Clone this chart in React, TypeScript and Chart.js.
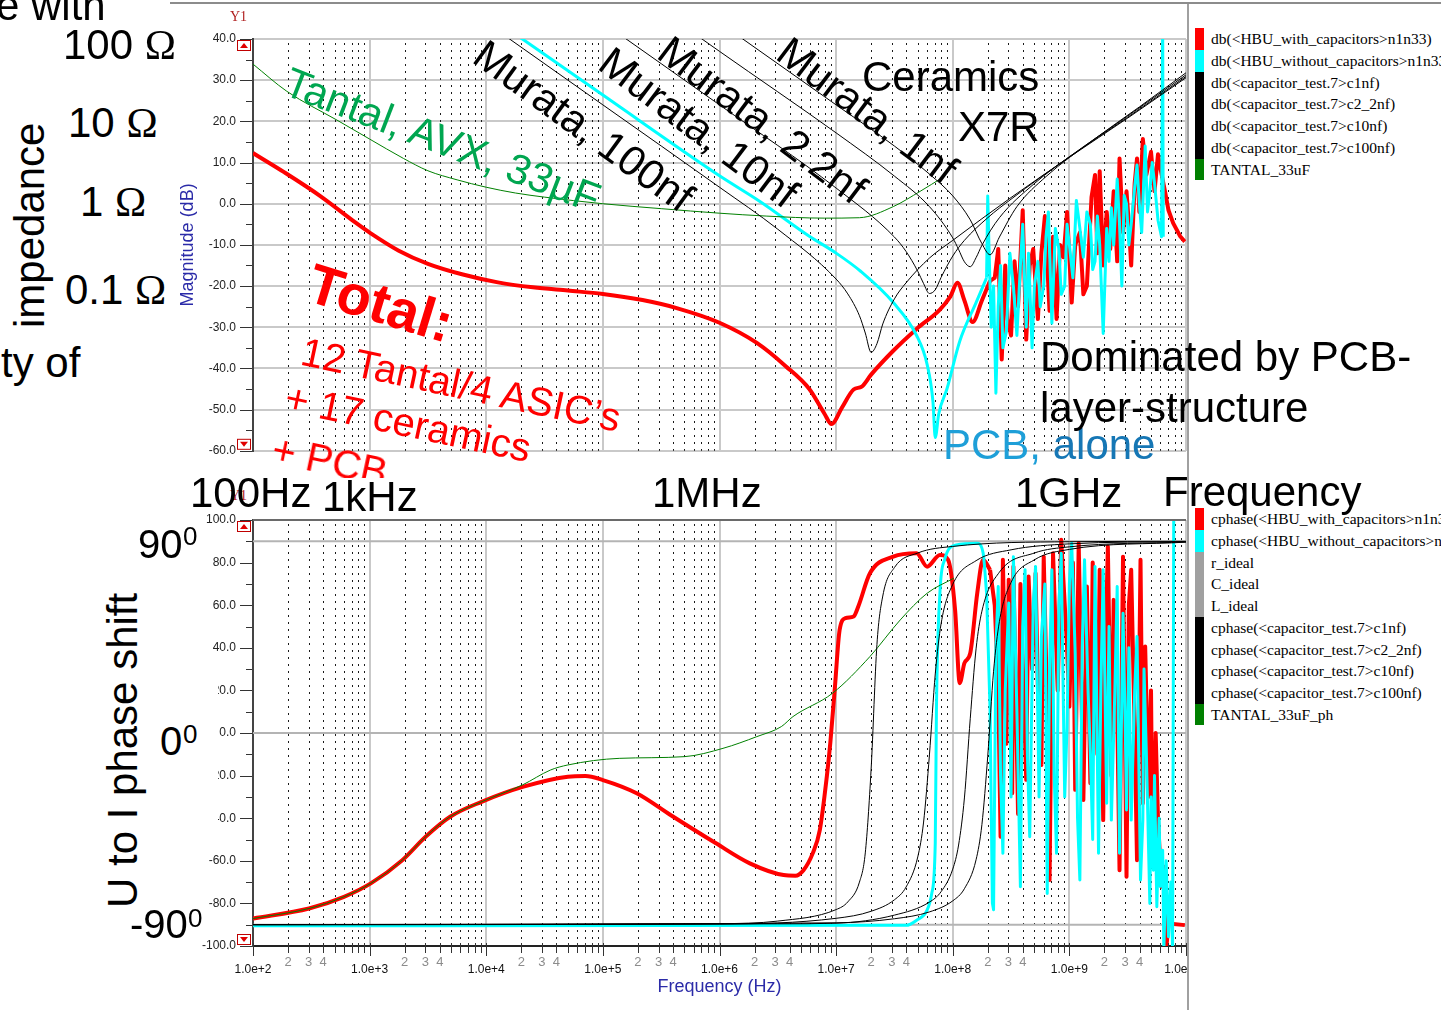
import React, { useEffect, useRef } from "react";
import { Chart, registerables } from "chart.js";

Chart.register(...registerables);

const SANS = "'Liberation Sans', Arial, Helvetica, sans-serif";
const SERIF = "'Liberation Serif', 'Times New Roman', serif";
const GRID = "#c9c9c9";

// ---------- axes ----------
const decadeExps = [2, 3, 4, 5, 6, 7, 8, 9, 10];
const decadeLabels = ["1.0e+2", "1.0e+3", "1.0e+4", "1.0e+5", "1.0e+6", "1.0e+7", "1.0e+8", "1.0e+9", "1.0e+10"];
const minorMultipliers = [2, 3, 4, 5, 6, 7, 8, 9];
const minorLabels = ["2", "3", "4"];
const magTicks = [40, 30, 20, 10, 0, -10, -20, -30, -40, -50, -60];
const magMinorTicks = [35, 25, 15, 5, -5, -15, -25, -35, -45, -55];
const phaseTicks = [100, 80, 60, 40, 20, 0, -20, -40, -60, -80, -100];
const phaseMinorTicks = [90, 70, 50, 30, 10, -10, -30, -50, -70, -90];

// ---------- magnitude (dB) — frequencies given as log10(Hz) ----------
// HBU with capacitors (red): smooth part, then the PCB-dominated ripple
const redMagF = [2.0, 2.27, 2.58, 2.88, 3.0, 3.25, 3.5, 3.8, 4.1, 4.4, 4.7, 5.0, 5.34, 5.64, 6.0, 6.32, 6.57, 6.77, 6.9, 6.96, 7.05, 7.15, 7.22, 7.3, 7.49, 7.69, 7.89, 7.98, 8.04, 8.1, 8.17, 8.25, 8.32];
const redMagDb = [12.3, 7.6, 1.8, -4.6, -7.0, -11.4, -14.6, -17.2, -19.1, -20.3, -21.1, -21.9, -23.4, -25.4, -28.9, -33.8, -39.5, -45.0, -51.0, -53.5, -49.5, -45.1, -44.4, -41.5, -35.7, -30.4, -25.7, -22.5, -19.2, -23.5, -28.7, -23.5, -18.7];
const redMagNoiseF = [8.32, 8.36, 8.39, 8.42, 8.45, 8.47, 8.5, 8.53, 8.56, 8.6, 8.63, 8.66, 8.69, 8.73, 8.76, 8.79, 8.83, 8.86, 8.89, 8.92, 8.95, 8.98, 9.02, 9.05, 9.09, 9.12, 9.15, 9.19, 9.22, 9.24, 9.26, 9.29, 9.32, 9.35, 9.38, 9.41, 9.43, 9.46, 9.49, 9.51, 9.53, 9.56, 9.58, 9.6, 9.63, 9.66, 9.7, 9.73, 9.76, 9.78, 9.82, 9.85, 9.89, 9.95, 9.99];
const redMagNoiseDb = [-18.7, -18, -11, -37.8, -15, -28, -32, -14, -25, -1.6, -33, -15, -11, -28, -12, -3, -26, -8, -28, -10, -13, -2, -24, -10, -7, -22, -20, 1.6, 7, -12, 7.9, -15, -2, -11, 3, -14, 11, -7, 3, -5, -15, 5, 11, -2, 15.7, 7, 12.6, 3, 12, 8.7, 3, -1.6, -4.7, -7.9, -9.2];

// HBU without capacitors = PCB alone (cyan)
const cyanMagF = [2.0, 4.31, 5.0, 6.0, 6.35, 6.77, 7.0, 7.21, 7.49, 7.69, 7.78, 7.83, 7.85, 7.88, 7.95, 8.06, 8.2, 8.29];
const cyanMagDb = [86, 40, 26.4, 6.8, 0.5, -7.9, -12, -16.4, -24, -32, -39, -48, -56.8, -51, -45, -33.4, -24, -18];
const cyanMagNoiseF = [8.29, 8.3, 8.31, 8.33, 8.35, 8.37, 8.39, 8.41, 8.43, 8.46, 8.49, 8.52, 8.55, 8.58, 8.6, 8.63, 8.65, 8.68, 8.7, 8.73, 8.75, 8.78, 8.8, 8.82, 8.85, 8.88, 8.91, 8.93, 8.96, 8.98, 9.0, 9.03, 9.06, 9.09, 9.12, 9.15, 9.18, 9.2, 9.22, 9.24, 9.26, 9.29, 9.32, 9.34, 9.36, 9.38, 9.41, 9.43, 9.45, 9.47, 9.49, 9.51, 9.53, 9.56, 9.58, 9.6, 9.62, 9.65, 9.67, 9.69, 9.71, 9.73, 9.76, 9.79, 9.8, 9.805];
const cyanMagNoiseDb = [-18, 1.9, -10, -30, -20, -46, -25, -15, -35, -31, -12, -20, -32, -15, -5, -30, -12, -35, -20, -14, -25, -20, -8, -2, -29, -6, -11, -22, -20, -5, -10, -18, 0.8, -6, -13, -2, -5, -16, -14, -3, -10, -31.5, -6, -14, -1, -10, 6, -5, -20, 2, 0, -10, -5, 4, 9.4, 0, -7, 14, -2, 3, 10, 5, -4, -8, 45, -8];

// Tantal AVX 33uF (green)
const greenMagF = [2.0, 2.29, 2.72, 3.0, 3.29, 3.5, 3.75, 4.0, 4.25, 4.5, 5.0, 5.5, 6.0, 6.4, 6.9, 7.2, 7.49, 7.72, 7.92];
const greenMagDb = [33.9, 27.3, 20.3, 15.7, 11.0, 8.0, 5.8, 4.0, 2.6, 1.6, 0.0, -1.2, -2.3, -3.0, -3.5, -3.4, -0.7, 3.0, 6.5];

// Murata X7R ceramics (black)
const c100MagF = [2, 4, 5, 6, 6.5, 7, 7.1, 7.2, 7.25, 7.3, 7.35, 7.4, 7.5, 7.6, 7.8, 8, 8.5, 9, 9.5, 10];
const c100MagDb = [84, 44, 24, 4, -6.2, -18.3, -21.9, -27.2, -31.4, -36.1, -34, -29.2, -23.1, -19.2, -13.2, -8.9, 1.5, 11.3, 20.8, 30.6];
const c10MagF = [2, 5, 6, 7, 7.5, 7.6, 7.7, 7.75, 7.8, 7.85, 7.9, 8, 8.1, 8.3, 8.5, 9, 9.5, 10];
const c10MagDb = [104, 44, 24, 3.8, -8.1, -11.6, -16.4, -19.4, -21.8, -20.9, -17.9, -12.7, -8.9, -3.4, 1.1, 11.4, 21.0, 30.9];
const c2n2MagF = [2, 5, 6, 7, 7.5, 7.8, 8, 8.05, 8.1, 8.15, 8.2, 8.25, 8.4, 8.7, 9, 9.5, 10];
const c2n2MagDb = [117, 57, 37, 17.2, 6.7, -0.7, -8.3, -11.1, -14.1, -15.3, -13.1, -10.1, -3.4, 4.9, 11.4, 21.3, 31.3];
const c1nMagF = [2, 6, 7, 7.5, 7.8, 8, 8.15, 8.25, 8.32, 8.4, 8.55, 8.8, 9.2, 9.6, 10];
const c1nMagDb = [124, 44, 24, 14.0, 7.2, 1.9, -3.9, -9.7, -12.4, -8.1, -0.7, 6.6, 15.4, 23.5, 31.8];

// ---------- phase (deg) ----------
const redPhF = [2.0, 2.48, 2.78, 3.01, 3.28, 3.48, 3.69, 3.96, 4.32, 4.7, 4.85, 5.0, 5.29, 5.58, 5.97, 6.26, 6.55, 6.65, 6.72, 6.8, 6.86, 6.92, 6.95, 6.99, 7.03, 7.08, 7.15, 7.19, 7.29, 7.49, 7.69, 7.78, 7.89, 7.96, 8.02, 8.06, 8.1, 8.15, 8.21, 8.26, 8.32];
const redPhDeg = [-87.1, -82.4, -76.9, -70.6, -59.7, -48.7, -39.3, -32.3, -25.2, -20.5, -20.2, -22.1, -28.3, -38.5, -51.8, -61.2, -66.7, -67, -64.4, -56.4, -45.6, -20.5, -4.7, 21.8, 48.4, 53.9, 54.7, 59.4, 75, 82.8, 84.4, 78.1, 83.6, 81.3, 57.8, 23.4, 32.8, 37.5, 65.6, 81.3, 76.6];
const redPhNoiseF = [8.32, 8.36, 8.39, 8.41, 8.43, 8.46, 8.48, 8.51, 8.52, 8.56, 8.58, 8.63, 8.65, 8.68, 8.71, 8.73, 8.76, 8.78, 8.81, 8.83, 8.86, 8.9, 8.93, 8.98, 9.0, 9.03, 9.05, 9.08, 9.1, 9.12, 9.15, 9.18, 9.2, 9.22, 9.24, 9.26, 9.29, 9.31, 9.33, 9.36, 9.38, 9.41, 9.43, 9.46, 9.49, 9.51, 9.53, 9.56, 9.58, 9.61, 9.63, 9.65, 9.68, 9.7, 9.71, 9.72, 9.74, 9.76, 9.79, 9.82, 9.83, 9.85, 9.99];
const redPhNoiseDeg = [76.6, 60, 21.8, -48.7, 81.3, -5, 72, -28.3, 78.2, -38, 70, -22, 73.5, 30, 75, 21.8, -15, 82.8, 10, -69, 84.4, 20, 90.7, 40.6, 12.4, 80, -26.7, 89.1, 30, -31.4, 68.8, -23.6, 80, 53.1, -10, 76.6, -40.9, 40, 87.6, -20, 62.5, 10, -64.4, 82.8, -67.5, 60, 76.6, 0, -59.7, 81.3, -33, 40.6, -29.9, 20, -37.7, -56.5, 0, -40.9, -72.2, -62.8, -102, -89.4, -90.2];

const cyanPhF = [2.0, 7.6, 7.69, 7.78, 7.82, 7.85, 7.86, 7.89, 7.93, 8.03, 8.21, 8.26, 8.29];
const cyanPhDeg = [-90.5, -90.3, -87.9, -83.2, -75.3, -51.7, 10.8, 65.8, 81.3, 88.3, 89.1, 84.6, 65.8];
const cyanPhNoiseF = [8.29, 8.32, 8.34, 8.35, 8.37, 8.39, 8.41, 8.43, 8.45, 8.48, 8.5, 8.52, 8.55, 8.58, 8.6, 8.62, 8.64, 8.66, 8.69, 8.71, 8.74, 8.76, 8.79, 8.81, 8.83, 8.85, 8.87, 8.89, 8.91, 8.93, 8.96, 8.98, 9.0, 9.02, 9.05, 9.07, 9.09, 9.11, 9.13, 9.16, 9.18, 9.2, 9.22, 9.25, 9.27, 9.29, 9.32, 9.34, 9.36, 9.39, 9.41, 9.43, 9.46, 9.48, 9.49, 9.51, 9.53, 9.56, 9.58, 9.61, 9.63, 9.64, 9.66, 9.69, 9.7, 9.72, 9.73, 9.75, 9.77, 9.78, 9.8, 9.81, 9.83, 9.85, 9.87, 9.885, 9.895];
const cyanPhNoiseDeg = [65.8, 10.8, -79.9, -83, 40, 68.8, -20, -56.5, 20, 61, -30, 82.8, 10, -72.2, 50, 76.6, -10, -48.7, 60, 78.2, -30, 45.3, 70, -75.3, 30, 76.6, -20, -56.5, 60, 84.4, -30, 2.8, 70, 89.1, 37.4, -40, -69, 40, 81.3, 20, -9.4, -50, 78.2, -56.5, 20, 76.6, -33, 50, -40.9, 20, 68.8, -56.5, 56.2, 0, -36.1, 40, -40.9, 20, 45.3, -69, -40.9, 30, -9.4, -80, -30, -64.4, -20, -81.6, -40, -72, -55, -102, -60, -95.6, -70, -102, 105];

const greenPhF = [2.0, 2.48, 2.78, 3.01, 3.28, 3.48, 3.69, 3.96, 4.31, 4.55, 4.7, 5.14, 5.7, 6.03, 6.32, 6.53, 6.63, 6.97, 7.29, 7.55, 7.78, 8.01];
const greenPhDeg = [-87.1, -82.4, -76.9, -70.6, -59.7, -48.7, -39.3, -32.3, -24.4, -17.4, -15, -11.9, -11.1, -7.2, -1.7, 3.0, 7.7, 18.7, 35.9, 53.1, 65.6, 72.7];

const c100PhF = [2, 6, 6.5, 7, 7.1, 7.2, 7.25, 7.3, 7.35, 7.4, 7.5, 7.7, 8, 9, 10];
const c100PhDeg = [-89.9, -89.5, -88.3, -82.9, -79.3, -70, -56.3, -17, 41.6, 64.3, 77.7, 84.5, 87.6, 89.8, 90];
const c10PhF = [2, 6, 7, 7.3, 7.5, 7.6, 7.7, 7.75, 7.8, 7.85, 7.9, 8, 8.2, 8.5, 9, 10];
const c10PhDeg = [-90, -89.7, -87, -83.7, -78.3, -72.3, -58.2, -41.8, -10.3, 27.7, 51.3, 69.8, 80.9, 86, 88.8, 89.9];
const c2n2PhF = [2, 6.5, 7, 7.5, 7.8, 7.9, 8, 8.05, 8.1, 8.15, 8.2, 8.25, 8.4, 8.7, 9, 10];
const c2n2PhDeg = [-90, -89.6, -89.3, -85.5, -79.4, -74.5, -63.9, -52.6, -30.5, 6.7, 39.5, 57.2, 75.5, 84.5, 87.4, 89.7];
const c1nPhF = [2, 7, 7.5, 7.8, 8, 8.1, 8.2, 8.25, 8.3, 8.35, 8.4, 8.5, 8.7, 9, 10];
const c1nPhDeg = [-90, -89.1, -87.2, -84, -78.8, -73.1, -59.5, -43, -10.9, 29, 52.3, 70.7, 81.3, 86.2, 89.6];

const idealF = [2, 10];
const rIdealDeg = [0, 0];
const cIdealDeg = [-90, -90];
const lIdealDeg = [90, 90];

// ---------- legends ----------
const magLegendLabels = ["db(<HBU_with_capacitors>n1n33)", "db(<HBU_without_capacitors>n1n33)", "db(<capacitor_test.7>c1nf)", "db(<capacitor_test.7>c2_2nf)", "db(<capacitor_test.7>c10nf)", "db(<capacitor_test.7>c100nf)", "TANTAL_33uF"];
const magLegendColors = ["#ff0000", "#00ffff", "#000000", "#000000", "#000000", "#000000", "#008000"];
const phaseLegendLabels = ["cphase(<HBU_with_capacitors>n1n33)", "cphase(<HBU_without_capacitors>n1n33)", "r_ideal", "C_ideal", "L_ideal", "cphase(<capacitor_test.7>c1nf)", "cphase(<capacitor_test.7>c2_2nf)", "cphase(<capacitor_test.7>c10nf)", "cphase(<capacitor_test.7>c100nf)", "TANTAL_33uF_ph"];
const phaseLegendColors = ["#ff0000", "#00ffff", "#a0a0a0", "#a0a0a0", "#a0a0a0", "#000000", "#000000", "#000000", "#000000", "#008000"];

// ---------- helpers ----------
function isDecade(v?: number) {
  if (v === undefined || v <= 0) return false;
  const l = Math.log10(v);
  return Math.abs(l - Math.round(l)) < 1e-6;
}

const xTickValues: number[] = [];
decadeExps.forEach((e) => {
  xTickValues.push(Math.pow(10, e));
  if (e < 10) minorMultipliers.forEach((m) => xTickValues.push(m * Math.pow(10, e)));
});
xTickValues.sort((a, b) => a - b);
const minorXValues = xTickValues.filter((v) => !isDecade(v));

const pts = (lf: number[], v: number[]) => lf.map((l, i) => ({ x: Math.pow(10, l), y: v[i] }));
const series = (label: string, lf: number[], v: number[], color: string, width: number, smooth: boolean) => ({
  label,
  data: pts(lf, v),
  borderColor: color,
  backgroundColor: color,
  borderWidth: width,
  pointRadius: 0,
  tension: 0,
  cubicInterpolationMode: smooth ? ("monotone" as const) : ("default" as const),
  fill: false,
  borderJoinStyle: "round" as const,
});

function decorPlugin(cfg: { yMajor: number[]; yMinor: number[]; xTicks: boolean; topLine: boolean }) {
  return {
    id: "decor",
    beforeDatasetsDraw(chart: any) {
      const { ctx, chartArea: a } = chart;
      const xs = chart.scales.x;
      ctx.save();
      ctx.strokeStyle = "#1a1a1a";
      ctx.lineWidth = 1;
      ctx.setLineDash([2, 5]);
      minorXValues.forEach((v) => {
        const px = Math.round(xs.getPixelForValue(v)) + 0.5;
        ctx.beginPath();
        ctx.moveTo(px, a.top + 4);
        ctx.lineTo(px, a.bottom);
        ctx.stroke();
      });
      ctx.restore();
    },
    afterDraw(chart: any) {
      const { ctx, chartArea: a } = chart;
      const xs = chart.scales.x;
      const ys = chart.scales.y;
      ctx.save();
      ctx.strokeStyle = "#333";
      ctx.lineWidth = 1;
      const L = a.left - 1;
      cfg.yMajor.forEach((v) => {
        const py = Math.round(ys.getPixelForValue(v)) + 0.5;
        ctx.beginPath(); ctx.moveTo(L - 12, py); ctx.lineTo(L, py); ctx.stroke();
      });
      cfg.yMinor.forEach((v) => {
        const py = Math.round(ys.getPixelForValue(v)) + 0.5;
        ctx.beginPath(); ctx.moveTo(L - 6, py); ctx.lineTo(L, py); ctx.stroke();
      });
      if (cfg.xTicks) {
        xTickValues.forEach((v) => {
          const px = Math.round(xs.getPixelForValue(v)) + 0.5;
          ctx.beginPath();
          ctx.moveTo(px, a.bottom - 3);
          ctx.lineTo(px, a.bottom + (isDecade(v) ? 10 : 7));
          ctx.stroke();
        });
      }
      if (cfg.topLine) {
        ctx.strokeStyle = "#6a6a6a";
        ctx.lineWidth = 2;
        ctx.beginPath(); ctx.moveTo(a.left, a.top); ctx.lineTo(a.right, a.top); ctx.stroke();
      }
      const box = (y0: number, up: boolean) => {
        ctx.fillStyle = "#fff";
        ctx.fillRect(a.left - 16, y0, 14, 11);
        ctx.strokeStyle = "#c00000";
        ctx.lineWidth = 1;
        ctx.strokeRect(a.left - 15.5, y0 + 0.5, 13, 10);
        ctx.fillStyle = "#e00000";
        const cx = a.left - 9;
        ctx.beginPath();
        if (up) { ctx.moveTo(cx - 4, y0 + 8); ctx.lineTo(cx + 4, y0 + 8); ctx.lineTo(cx, y0 + 3); }
        else { ctx.moveTo(cx - 4, y0 + 3); ctx.lineTo(cx + 4, y0 + 3); ctx.lineTo(cx, y0 + 8); }
        ctx.closePath();
        ctx.fill();
      };
      box(a.top + 1, true);
      box(a.bottom - 12, false);
      ctx.restore();
    },
  };
}

const xScaleBase = (showLabels: boolean) => ({
  type: "logarithmic" as const,
  min: 1e2,
  max: 1e10,
  afterBuildTicks: (s: any) => { s.ticks = xTickValues.map((v) => ({ value: v })); },
  ticks: {
    display: showLabels,
    autoSkip: false,
    maxRotation: 0,
    minRotation: 0,
    padding: 10,
    callback: (val: any) => {
      const v = Number(val);
      if (isDecade(v)) return ["", decadeLabels[decadeExps.indexOf(Math.round(Math.log10(v)))]];
      const m = Math.round(v / Math.pow(10, Math.floor(Math.log10(v) + 1e-9)));
      const idx = minorMultipliers.indexOf(m);
      return idx >= 0 && idx < minorLabels.length ? minorLabels[idx] : "";
    },
    color: (c: any) => (c.tick && isDecade(c.tick.value) ? "#111" : "#8c8c8c"),
    font: (c: any) => (c.tick && isDecade(c.tick.value) ? { family: SANS, size: 12, lineHeight: 0.78 } : { family: SANS, size: 13, lineHeight: 1 }),
  },
  grid: {
    drawTicks: false,
    lineWidth: 2,
    color: (c: any) => (c.tick && isDecade(c.tick.value) ? GRID : "rgba(0,0,0,0)"),
  },
});

const baseOptions = (padTop: number, padBottom: number) => ({
  animation: false,
  responsive: false,
  maintainAspectRatio: false,
  devicePixelRatio: 1,
  events: [],
  layout: { padding: { left: 0, right: 34, top: padTop, bottom: padBottom } },
  plugins: { legend: { display: false }, tooltip: { enabled: false } },
});

function MagChart() {
  const ref = useRef<HTMLCanvasElement>(null);
  useEffect(() => {
    const chart = new Chart(ref.current as HTMLCanvasElement, {
      type: "line",
      data: {
        datasets: [
          series(magLegendLabels[2], c1nMagF, c1nMagDb, "#000", 1, true),
          series(magLegendLabels[3], c2n2MagF, c2n2MagDb, "#000", 1, true),
          series(magLegendLabels[4], c10MagF, c10MagDb, "#000", 1, true),
          series(magLegendLabels[5], c100MagF, c100MagDb, "#000", 1, true),
          series(magLegendLabels[6], greenMagF, greenMagDb, "#008000", 1, true),
          series(magLegendLabels[1], cyanMagF, cyanMagDb, "#00ffff", 3, true),
          series(magLegendLabels[1], cyanMagNoiseF, cyanMagNoiseDb, "#00ffff", 3, false),
          series(magLegendLabels[0], redMagF, redMagDb, "#ff0000", 4, true),
          series(magLegendLabels[0], redMagNoiseF, redMagNoiseDb, "#ff0000", 4, false),
        ],
      },
      options: {
        ...baseOptions(39, 8),
        scales: {
          x: {
            ...xScaleBase(false),
            border: { display: false },
            afterFit: (s: any) => { s.height = 0; },
          } as any,
          y: {
            min: -60,
            max: 40,
            afterBuildTicks: (s: any) => { s.ticks = magTicks.map((v) => ({ value: v })); },
            ticks: { callback: (v: any) => Number(v).toFixed(1), color: "#222", font: { family: SANS, size: 12 }, padding: 17 },
            grid: { color: GRID, lineWidth: 2, drawTicks: false },
            border: { color: "#444", width: 2 },
            title: { display: true, text: "Magnitude (dB)", color: "#2b2ba8", font: { family: SANS, size: 18 }, padding: { top: 7, bottom: 0 } },
            afterFit: (s: any) => { s.width = 83; },
          } as any,
        },
      },
      plugins: [decorPlugin({ yMajor: magTicks, yMinor: magMinorTicks, xTicks: false, topLine: false })],
    } as any);
    return () => chart.destroy();
  }, []);
  return <canvas ref={ref} width={1050} height={475} style={{ position: "absolute", left: 170, top: 0 }} />;
}

function PhaseChart() {
  const ref = useRef<HTMLCanvasElement>(null);
  useEffect(() => {
    const chart = new Chart(ref.current as HTMLCanvasElement, {
      type: "line",
      data: {
        datasets: [
          series(phaseLegendLabels[5], c1nPhF, c1nPhDeg, "#000", 1, true),
          series(phaseLegendLabels[6], c2n2PhF, c2n2PhDeg, "#000", 1, true),
          series(phaseLegendLabels[7], c10PhF, c10PhDeg, "#000", 1, true),
          series(phaseLegendLabels[8], c100PhF, c100PhDeg, "#000", 1, true),
          series(phaseLegendLabels[9], greenPhF, greenPhDeg, "#008000", 1, true),
          series(phaseLegendLabels[1], cyanPhF, cyanPhDeg, "#00ffff", 3, true),
          series(phaseLegendLabels[1], cyanPhNoiseF, cyanPhNoiseDeg, "#00ffff", 3, false),
          series(phaseLegendLabels[0], redPhF, redPhDeg, "#ff0000", 4, true),
          series(phaseLegendLabels[0], redPhNoiseF, redPhNoiseDeg, "#ff0000", 4, false),
          series(phaseLegendLabels[2], idealF, rIdealDeg, "#b4b4b4", 2, false),
          series(phaseLegendLabels[3], idealF, cIdealDeg, "#b4b4b4", 2, false),
          series(phaseLegendLabels[4], idealF, lIdealDeg, "#b4b4b4", 2, false),
        ],
      },
      options: {
        ...baseOptions(40, 0),
        scales: {
          x: {
            ...xScaleBase(true),
            border: { color: "#222", width: 2 },
            title: { display: true, text: "Frequency (Hz)", color: "#2b2ba8", font: { family: SANS, size: 18 }, padding: { top: 0, bottom: 12 } },
            afterFit: (s: any) => { s.height = 64; },
          } as any,
          y: {
            min: -100,
            max: 100,
            afterBuildTicks: (s: any) => { s.ticks = phaseTicks.map((v) => ({ value: v })); },
            ticks: { callback: (v: any) => Number(v).toFixed(1), color: "#222", font: { family: SANS, size: 12 }, padding: 17 },
            grid: { drawOnChartArea: false, drawTicks: false },
            border: { color: "#444", width: 2 },
            afterFit: (s: any) => { s.width = 83; },
          } as any,
        },
      },
      plugins: [decorPlugin({ yMajor: phaseTicks, yMinor: phaseMinorTicks, xTicks: true, topLine: true })],
    } as any);
    return () => chart.destroy();
  }, []);
  return <canvas ref={ref} width={1050} height={530} style={{ position: "absolute", left: 170, top: 480 }} />;
}

// text placed by its baseline start point (x, y)
function Label(props: { children: React.ReactNode; x: number; y: number; size?: number; color?: string; angle?: number; bold?: boolean }) {
  const { children, x, y, size = 42, color = "#000", angle = 0, bold = false } = props;
  const asc = 0.8465 * size;
  const r = (angle * Math.PI) / 180;
  const left = x + Math.sin(r) * asc;
  const top = y - Math.cos(r) * asc;
  return (
    <div
      style={{
        position: "absolute",
        left,
        top,
        fontFamily: SANS,
        fontSize: size,
        lineHeight: `${size}px`,
        color,
        fontWeight: bold ? 700 : 400,
        whiteSpace: "nowrap",
        transform: `rotate(${angle}deg)`,
        transformOrigin: "0 0",
      }}
    >
      {children}
    </div>
  );
}

function LegendBlock({ top, labels, colors }: { top: number; labels: string[]; colors: string[] }) {
  return (
    <>
      {labels.map((lab, i) => (
        <div key={i} style={{ position: "absolute", left: 1195, top: top + i * 21.7, height: 21.8, width: 246, overflow: "hidden" }}>
          <div style={{ position: "absolute", left: 0, top: 0, width: 9, height: "100%", background: colors[i] }} />
          <div style={{ position: "absolute", left: 16, top: 0, lineHeight: "21.7px", fontFamily: SERIF, fontSize: 15.5, whiteSpace: "nowrap", color: "#000" }}>{lab}</div>
        </div>
      ))}
    </>
  );
}

const Om = () => <span style={{ fontFamily: SERIF }}>Ω</span>;

export default function App() {
  return (
    <div style={{ position: "absolute", left: 0, top: 0, width: 1441, height: 1010, overflow: "hidden", background: "#fff" }}>
      <MagChart />
      <PhaseChart />

      {/* legend panel */}
      <div style={{ position: "absolute", left: 1187, top: 3, width: 254, height: 1007, background: "#fff", borderLeft: "2px solid #a0a0a0" }} />
      <div style={{ position: "absolute", left: 170, top: 2, width: 1271, height: 2, background: "#8c8c8c" }} />
      <LegendBlock top={28.3} labels={magLegendLabels} colors={magLegendColors} />
      <LegendBlock top={508.3} labels={phaseLegendLabels} colors={phaseLegendColors} />

      <div style={{ position: "absolute", left: 230, top: 9, fontFamily: SERIF, fontSize: 14, color: "#b02020" }}>Y1</div>

      <Label x={270} y={462} size={40} color="#ff0000" angle={12}>+ PCB</Label>
      <div style={{ position: "absolute", left: 180, top: 478, width: 1005, height: 30, background: "#fff" }} />
      <div style={{ position: "absolute", left: 230, top: 488, fontFamily: SERIF, fontSize: 14, color: "#b02020" }}>Y1</div>
      <div style={{ position: "absolute", left: 150, top: 680, width: 68, height: 150, background: "#fff" }} />

      {/* left annotations */}
      <Label x={-4} y={21}>e with</Label>
      <Label x={63} y={60}>100 <Om /></Label>
      <Label x={68} y={138}>10 <Om /></Label>
      <Label x={80} y={217}>1 <Om /></Label>
      <Label x={65} y={305}>0.1 <Om /></Label>
      <Label x={1} y={378}>ty of</Label>
      <Label x={45} y={328} angle={-90}>impedance</Label>
      <Label x={138} y={908} angle={-90}>U to I phase shift</Label>
      <Label x={138} y={558} size={40}>90</Label>
      <Label x={183} y={545} size={26}>0</Label>
      <Label x={160} y={755} size={40}>0</Label>
      <Label x={183} y={743} size={26}>0</Label>
      <Label x={130} y={938} size={40}>-90</Label>
      <Label x={188} y={927} size={26}>0</Label>

      {/* plot annotations */}
      <Label x={281} y={94} color="#00a650" angle={21}>Tantal, AVX, 33µF</Label>
      <Label x={470} y={62} angle={36}>Murata, 100nf</Label>
      <Label x={596} y={68} angle={37}>Murata, 10nf</Label>
      <Label x={655} y={57} angle={37}>Murata, 2.2nf</Label>
      <Label x={774} y={58} angle={37}>Murata, 1nf</Label>
      <Label x={862} y={92}>Ceramics</Label>
      <Label x={958} y={142}>X7R</Label>
      <Label x={304} y={300} size={56} bold color="#ff0000" angle={17}>Total:</Label>
      <Label x={299} y={364} size={40} color="#ff0000" angle={12}>12 Tantal/4 ASIC’s</Label>
      <Label x={283} y={410} size={40} color="#ff0000" angle={12}>+ 17 ceramics</Label>
      <Label x={943} y={460}>
        <span style={{ color: "#1e9fd8" }}>PCB,</span> <span style={{ color: "#1677b5" }}>alone</span>
      </Label>
      <Label x={1040} y={372} size={42}>Dominated by PCB-</Label>
      <Label x={1040} y={423} size={42}>layer-structure</Label>

      <Label x={190} y={508}>100Hz</Label>
      <Label x={322} y={512}>1kHz</Label>
      <Label x={652} y={508}>1MHz</Label>
      <Label x={1015} y={508}>1GHz</Label>
      <Label x={1163} y={507}>Frequency</Label>
    </div>
  );
}
